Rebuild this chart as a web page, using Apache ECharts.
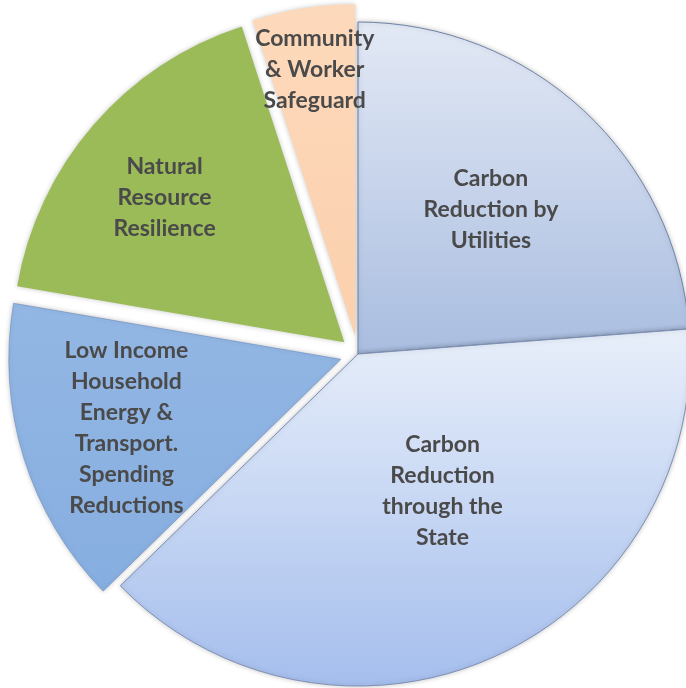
<!DOCTYPE html>
<html>
<head>
<meta charset="utf-8">
<script src="https://cdn.jsdelivr.net/npm/echarts@6/dist/echarts.min.js"></script>
<style>
  html, body { margin: 0; padding: 0; background: #fff; }
  #chart { width: 686px; height: 688px; }
</style>
</head>
<body>
<div id="chart"></div>
<script>
// slice names (clockwise from 12 o'clock) and their shares in %
var categories = [
    'Carbon\nReduction by\nUtilities',
    'Carbon\nReduction\nthrough the\nState',
    'Low Income\nHousehold\nEnergy &\nTransport.\nSpending\nReductions',
    'Natural\nResource\nResilience',
    'Community\n& Worker\nSafeguard'
];
var shares = [23.8, 38.9, 15.0, 17.3, 5.0];
var pulledOut = [false, false, true, true, true];

// look of each slice
var fills = [
    ['#e3e9f5', '#a9bde0'],
    ['#e8effa', '#a5beed'],
    ['#93b7e4', '#86aee0'],
    ['#9bbb59', '#9bbb59'],
    ['#fdd9bb', '#fbd0ad']
];
var borders = ['#6f84a8', '#7d8fb3', 'rgba(110,140,190,0.6)', 'rgba(0,0,0,0)', 'rgba(0,0,0,0)'];
// nudge of each label away from the default "inside" spot
var labelShift = [[18, -21], [15, -17], [-53, 19], [-52, -34], [-14, -100]];

var chart = echarts.init(document.getElementById('chart'));

var pieData = shares.map(function (v, i) {
    return {
        name: categories[i],
        value: v,
        selected: pulledOut[i],
        itemStyle: {
            color: new echarts.graphic.LinearGradient(0, 0, 0, 1, [
                { offset: 0, color: fills[i][0] },
                { offset: 1, color: fills[i][1] }
            ]),
            borderColor: borders[i],
            borderWidth: 1
        }
    };
});

chart.setOption({
    animation: false,
    backgroundColor: '#ffffff',
    series: [{
        type: 'pie',
        center: [358, 354],
        radius: [0, 332],
        startAngle: 90,
        clockwise: true,
        selectedMode: 'multiple',
        selectedOffset: 18,
        avoidLabelOverlap: false,
        itemStyle: {
            shadowBlur: 5,
            shadowColor: 'rgba(0,0,0,0.22)'
        },
        label: {
            show: true,
            position: 'inside',
            color: '#4a4a4a',
            fontFamily: 'Lato',
            fontWeight: 'bold',
            fontSize: 23,
            lineHeight: 31,
            align: 'center'
        },
        labelLine: { show: false },
        labelLayout: function (params) {
            var s = labelShift[params.dataIndex];
            return { dx: s[0], dy: s[1] };
        },
        emphasis: { disabled: true },
        select: { disabled: false },
        data: pieData
    }]
});
</script>
</body>
</html>
